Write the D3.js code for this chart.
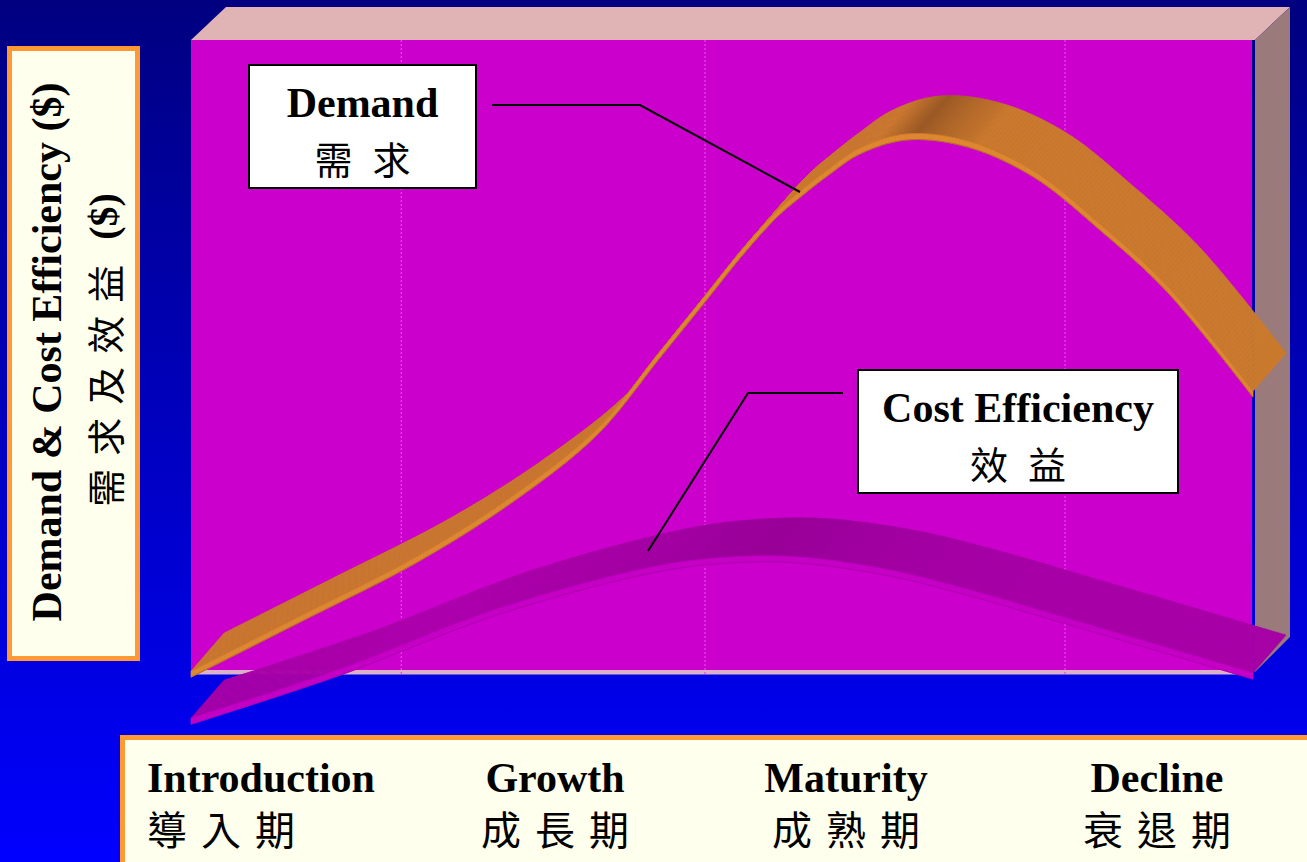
<!DOCTYPE html>
<html><head><meta charset="utf-8">
<script src="https://cdn.jsdelivr.net/npm/d3@7"></script>
<style>html,body{margin:0;padding:0;overflow:hidden;background:#00f}</style>
</head><body>
<svg id="c" width="1307" height="862" xmlns="http://www.w3.org/2000/svg"></svg>
<script>
// ---------- data ----------
const stageNames = ["Introduction", "Growth", "Maturity", "Decline"];
const stageNamesZh = ["導入期", "成長期", "成熟期", "衰退期"];
// time along the life cycle (0..100) and value ($, 0..100)
const demandT = [0, 10.3, 21.3, 30.3, 38.2, 44.2, 48.4, 52.0, 55.2, 57.3, 59.9, 63.0, 67.4, 73.1, 79.3, 85.6, 91.9, 100];
const demandV = [0.6, 9.3, 18.7, 28.2, 38.7, 51.0, 59.7, 67.2, 73.1, 76.1, 79.5, 83.0, 85.2, 84.1, 79.4, 71.0, 61.3, 44.7];
const costT = [0, 14, 29, 44, 51, 57, 65, 72, 85, 100];
const costV = [0.6, 8.3, 17.9, 24.6, 26.0, 26.0, 24.2, 21.4, 15.1, 7.7];
const gridT = [19.8, 48.4, 82.3];
const yTitleEn = "Demand & Cost Efficiency ($)";
const yTitleZh = "需求及效益";
const yTitleUnit = "($)";
const demandLabel = ["Demand", "需求"];
const costLabel = ["Cost Efficiency", "效益"];

// ---------- layout / style ----------
const W = 1307, H = 862;
const wall = {x0: 191, x1: 1252, y0: 40, y1: 672};
const depth = {dx: 33, dy: -38};       // ribbon depth projection
const boxDepth = {dx: 35, dy: -33};    // wall box depth projection
const serif = "'Liberation Serif','Times New Roman',serif";
const cjk = "'Noto Sans CJK TC','Noto Sans CJK SC',sans-serif";

const svg = d3.select("#c");
const defs = svg.append("defs");
const bg = defs.append("linearGradient").attr("id", "bg").attr("x1", 0).attr("y1", 0).attr("x2", 0).attr("y2", 1);
bg.append("stop").attr("offset", "0%").attr("stop-color", "#000080");
bg.append("stop").attr("offset", "100%").attr("stop-color", "#0000ff");
svg.append("rect").attr("width", W).attr("height", H).attr("fill", "url(#bg)");

const x = d3.scaleLinear().domain([0, 100]).range([191, 1253]);
const y = d3.scaleLinear().domain([0, 100]).range([675, 40]);

// ---------- 3D box (wall) ----------
svg.append("polygon")
  .attr("points", [[wall.x0, wall.y0], [wall.x0 + boxDepth.dx, wall.y0 + boxDepth.dy],
                   [wall.x1 + 3 + boxDepth.dx, wall.y0 + boxDepth.dy], [wall.x1 + 3, wall.y0]].join(" "))
  .attr("fill", "#e0b4b4");
svg.append("polygon")
  .attr("points", [[wall.x1 + 3, wall.y0], [wall.x1 + 3 + boxDepth.dx, wall.y0 + boxDepth.dy],
                   [wall.x1 + 3 + boxDepth.dx, wall.y1 - 35], [wall.x1 + 3, wall.y1]].join(" "))
  .attr("fill", "#9a7a7a");
svg.append("rect").attr("x", wall.x0).attr("y", wall.y0)
  .attr("width", wall.x1 - wall.x0).attr("height", wall.y1 - wall.y0).attr("fill", "#cc00cc");
svg.append("rect").attr("x", wall.x0).attr("y", wall.y1 - 2)
  .attr("width", wall.x1 - wall.x0 + 1).attr("height", 4.5).attr("fill", "#dcb0c8");

svg.append("g").selectAll("line").data(gridT).join("line")
  .attr("x1", d => x(d)).attr("x2", d => x(d))
  .attr("y1", wall.y0).attr("y2", wall.y1 + 2)
  .attr("stroke", "#f040f0").attr("stroke-width", 1.2).attr("stroke-dasharray", "2,2");

// ---------- ribbons ----------
function ribbon(ts, vs, shift, cols) {
  const g = svg.append("g");
  const pts = ts.map((t, i) => [x(t), y(vs[i]) + shift]);
  const line = d3.line().curve(d3.curveCatmullRom.alpha(0.5));
  const tmp = g.append("path").attr("d", line(pts)).attr("fill", "none");
  const node = tmp.node();
  const L = node.getTotalLength();
  const N = 400;
  const s = d3.range(N + 1).map(i => { const p = node.getPointAtLength(L * i / N); return [p.x, p.y]; });
  tmp.remove();
  const col = d3.interpolateRgb(cols.dark, cols.light);
  const quads = [];
  for (let i = 0; i < N; i++) {
    const a = s[i], b = s[i + 1];
    const slope = (b[1] - a[1]) / Math.max(0.001, b[0] - a[0]);
    const f = Math.min(1, Math.abs(slope) / cols.k);
    quads.push({pts: [a, b, [b[0] + depth.dx, b[1] + depth.dy], [a[0] + depth.dx, a[1] + depth.dy]], c: col(f)});
  }
  g.selectAll("polygon.surf").data(quads).join("polygon").attr("class", "surf")
    .attr("points", d => d.pts.join(" ")).attr("fill", d => d.c)
    .attr("stroke", d => d.c).attr("stroke-width", 0.7);
  const sw = cols.sw;
  const strip = [];
  for (let i = 0; i < N; i++) {
    const a = s[i], b = s[i + 1];
    strip.push([a, b, [b[0], b[1] + sw], [a[0], a[1] + sw]]);
  }
  g.selectAll("polygon.strip").data(strip).join("polygon").attr("class", "strip")
    .attr("points", d => d.join(" ")).attr("fill", cols.strip)
    .attr("stroke", cols.strip).attr("stroke-width", 0.7);
  g.append("path").attr("d", d3.line()(s.map(p => [p[0], p[1] + sw])))
    .attr("fill", "none").attr("stroke", cols.edge).attr("stroke-width", 1);
  g.append("path").attr("d", d3.line()(s))
    .attr("fill", "none").attr("stroke", cols.edge).attr("stroke-width", 0.6).attr("opacity", 0.6);
}
ribbon(demandT, demandV, 0, {dark: "#9a5a22", light: "#c97a2c", strip: "#de8830", edge: "#b06a24", k: 0.35, sw: 6});
ribbon(costT, costV, 47, {dark: "#970097", light: "#b000b0", strip: "#c600c6", edge: "#ac00ac", k: 0.5, sw: 6});

// ---------- callouts ----------
const lead = d3.line();
svg.append("path").attr("d", lead([[492, 105], [640, 105], [800, 192]]))
  .attr("fill", "none").attr("stroke", "#000").attr("stroke-width", 2);
svg.append("path").attr("d", lead([[843, 393], [748, 393], [648, 551]]))
  .attr("fill", "none").attr("stroke", "#000").attr("stroke-width", 2);

function callout(bx, by, bw, bh, lab) {
  svg.append("rect").attr("x", bx).attr("y", by).attr("width", bw).attr("height", bh)
    .attr("fill", "#fff").attr("stroke", "#000").attr("stroke-width", 2);
  const cx = bx + bw / 2;
  svg.append("text").attr("x", cx).attr("y", by + 52).attr("text-anchor", "middle")
    .style("font-family", serif).style("font-weight", "bold").style("font-size", "42px")
    .attr("fill", "#000").text(lab[0]);
  svg.append("text").attr("x", cx + 10).attr("y", by + 92).attr("text-anchor", "middle")
    .attr("dominant-baseline", "central")
    .style("font-family", cjk).style("font-size", "38px").style("letter-spacing", "20px")
    .attr("fill", "#000").text(lab[1]);
}
callout(249, 65, 227, 123, demandLabel);
callout(858, 370, 320, 123, costLabel);

// ---------- y-axis title box ----------
svg.append("rect").attr("x", 9.5).attr("y", 48.5).attr("width", 128).attr("height", 610)
  .attr("fill", "#ffffee").attr("stroke", "#ff9933").attr("stroke-width", 5);
svg.append("text").attr("transform", "translate(61,352) rotate(-90)").attr("text-anchor", "middle")
  .style("font-family", serif).style("font-weight", "bold").style("font-size", "42px")
  .attr("fill", "#000").text(yTitleEn);
const t2 = svg.append("text").attr("transform", "translate(103,350) rotate(-90)")
  .attr("text-anchor", "middle").attr("dominant-baseline", "central").attr("fill", "#000");
t2.append("tspan").style("font-family", cjk).style("font-size", "38px").style("letter-spacing", "13px").text(yTitleZh);
t2.append("tspan").attr("dx", 12).style("font-family", serif).style("font-weight", "bold").style("font-size", "40px").text(yTitleUnit);

// ---------- category box ----------
svg.append("rect").attr("x", 122.5).attr("y", 737.5).attr("width", 1300).attr("height", 200)
  .attr("fill", "#ffffee").attr("stroke", "#ff9933").attr("stroke-width", 5);
const cx = d3.scaleOrdinal().domain(stageNames).range([261, 555, 846, 1157]);
const zhAlign = ["start", "middle", "middle", "middle"];
stageNames.forEach((n, i) => {
  const te = svg.append("text").attr("x", cx(n)).attr("y", 792).attr("text-anchor", "middle")
    .style("font-family", serif).style("font-weight", "bold").style("font-size", "42px")
    .attr("fill", "#000").text(n);
  const bb = te.node().getBBox();
  svg.append("text")
    .attr("x", zhAlign[i] === "start" ? bb.x : cx(n) + 7)
    .attr("y", 828).attr("text-anchor", zhAlign[i]).attr("dominant-baseline", "central")
    .style("font-family", cjk).style("font-size", "40px").style("letter-spacing", "14px")
    .attr("fill", "#000").text(stageNamesZh[i]);
});
</script>
</body></html>
